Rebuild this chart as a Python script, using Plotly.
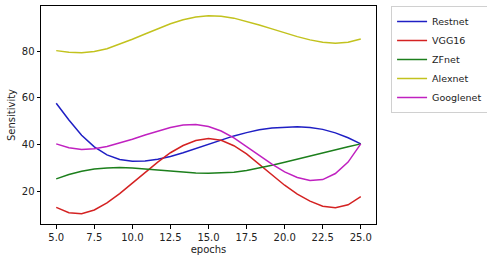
import plotly.graph_objects as go

epochs = [5.0, 5.833, 6.667, 7.5, 8.333, 9.167, 10.0, 10.833, 11.667, 12.5, 13.333, 14.167,
          15.0, 15.833, 16.667, 17.5, 18.333, 19.167, 20.0, 20.833, 21.667, 22.5, 23.333, 24.167, 25.0]

restnet = [57.7, 50.5, 44.0, 39.0, 35.6, 33.6, 32.9, 33.0, 33.7, 34.9, 36.5, 38.3,
           40.2, 42.0, 43.7, 45.1, 46.3, 47.1, 47.5, 47.6, 47.3, 46.5, 45.0, 42.9, 40.3]
vgg16 = [13.1, 10.8, 10.4, 12.0, 15.0, 19.0, 23.5, 28.0, 32.5, 36.5, 39.6, 41.7,
         42.6, 41.8, 39.5, 36.0, 31.6, 27.0, 22.6, 18.8, 15.8, 13.6, 13.0, 14.2, 17.7]
zfnet = [25.3, 27.2, 28.6, 29.5, 30.0, 30.2, 30.0, 29.6, 29.1, 28.6, 28.1, 27.8,
         27.7, 27.8, 28.2, 28.9, 29.9, 31.1, 32.4, 33.8, 35.2, 36.6, 37.9, 39.1, 40.3]
alexnet = [80.2, 79.5, 79.3, 79.8, 81.0, 82.9, 85.1, 87.3, 89.6, 91.7, 93.4, 94.6,
           95.1, 94.9, 94.1, 92.8, 91.2, 89.5, 87.8, 86.2, 84.8, 83.8, 83.4, 83.8, 85.2]
googlenet = [40.3, 38.6, 37.9, 38.2, 39.2, 40.6, 42.3, 44.1, 45.8, 47.3, 48.4, 48.6,
             47.7, 45.8, 42.9, 39.3, 35.4, 31.6, 28.3, 25.9, 24.6, 25.0, 27.6, 32.5, 40.3]

names = ["Restnet", "VGG16", "ZFnet", "Alexnet", "Googlenet"]
series = [restnet, vgg16, zfnet, alexnet, googlenet]
colors = ["#1f1fc4", "#d42222", "#1c7f1c", "#c2c21e", "#c021c0"]

x_ticks = [5.0, 7.5, 10.0, 12.5, 15.0, 17.5, 20.0, 22.5, 25.0]
y_ticks = [20, 40, 60, 80]

fig = go.Figure()
for n, s, c in zip(names, series, colors):
    fig.add_trace(go.Scatter(x=epochs, y=s, mode="lines", name=n,
                             line=dict(color=c, width=1.5)))

axis_common = dict(showline=True, linecolor="black", linewidth=1, mirror=True,
                   ticks="outside", ticklen=3.5, tickcolor="black", showgrid=False,
                   zeroline=False, tickfont=dict(size=10, color="#222"))
fig.update_xaxes(range=[4.0, 26.0], tickvals=x_ticks, ticktext=[f"{v:.1f}" for v in x_ticks],
                 title=dict(text="epochs", font=dict(size=10, color="#222"), standoff=4),
                 **axis_common)
fig.update_yaxes(range=[6.0, 99.3], tickvals=y_ticks,
                 title=dict(text="Sensitivity", font=dict(size=10, color="#222"), standoff=4),
                 **axis_common)
fig.update_layout(
    width=487, height=262,
    margin=dict(l=41, r=111, t=6, b=38, autoexpand=False),
    paper_bgcolor="white", plot_bgcolor="white",
    font=dict(family="DejaVu Sans", size=10, color="#222"),
    legend=dict(x=1.045, y=1.0, xanchor="left", yanchor="top",
                bordercolor="#d0d0d0", borderwidth=1, font=dict(size=9.5),
                tracegroupgap=0, itemwidth=30),
    showlegend=True,
)
fig.write_html("out.html", config={"displayModeBar": False},
               post_script="document.body.style.margin='0px';")
